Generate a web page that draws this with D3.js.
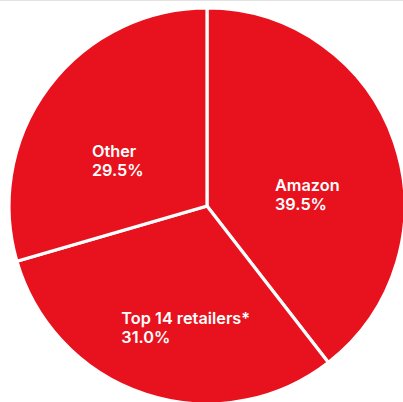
<!DOCTYPE html>
<html><head><meta charset="utf-8">
<script src="https://cdn.jsdelivr.net/npm/d3@7"></script>
<style>
html,body{margin:0;padding:0;background:#fff;}
svg{display:block;}
</style></head>
<body>
<svg id="chart" width="403" height="402"></svg>
<script>
const categories = ["Amazon", "Top 14 retailers*", "Other"];
const values = [39.5, 31.0, 29.5];
const valueLabels = ["39.5%", "31.0%", "29.5%"];

const W = 403, H = 402;
const cx = 207, cy = 206, R = 198;
const svg = d3.select("#chart");

svg.append("line").attr("x1",0).attr("x2",W).attr("y1",0.5).attr("y2",0.5)
  .attr("stroke","#e3e3e3").attr("stroke-width",1);

const data = categories.map((c,i)=>({name:c, value:values[i], label:valueLabels[i]}));
const pie = d3.pie().value(d=>d.value).sort(null);
const arc = d3.arc().innerRadius(0).outerRadius(R);
const arcs = pie(data);

const g = svg.append("g").attr("transform",`translate(${cx},${cy})`);
g.selectAll("path").data(arcs).enter().append("path")
  .attr("d", arc).attr("fill","#E8121E")
  .attr("stroke","#fff").attr("stroke-width",3.2).attr("stroke-linejoin","miter");

// label positions (offsets relative to the centroid)
const labelOffsets = [[-35, 20], [-52, 14], [-28, 16]];
const centroidArc = d3.arc().innerRadius(R*0.55).outerRadius(R*0.55);
arcs.forEach((a,i)=>{
  const c = centroidArc.centroid(a);
  const x = c[0] + labelOffsets[i][0];
  const y = c[1] + labelOffsets[i][1];
  const t = g.append("text").attr("fill","#fff")
    .attr("font-family","Inter, 'Noto Sans', sans-serif")
    .attr("font-weight",600).attr("font-size",16.3);
  t.append("tspan").attr("x",x).attr("y",y).text(a.data.name);
  t.append("tspan").attr("x",x).attr("y",y+19).text(a.data.label);
});
</script>
</body></html>
